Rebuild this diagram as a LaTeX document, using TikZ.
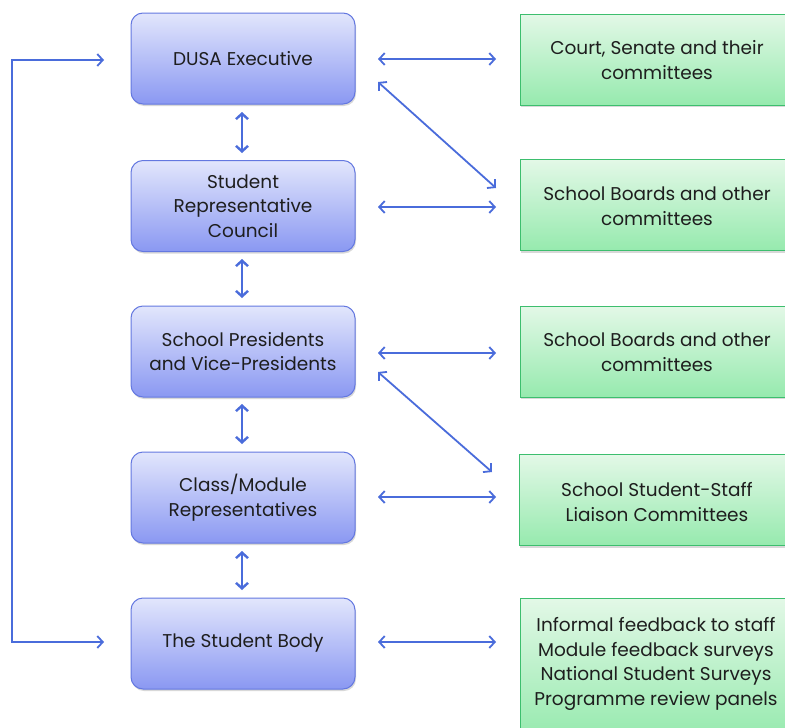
\documentclass[tikz,border=0pt]{standalone}
\usepackage{fontspec}
\setmainfont{Poppins}
\usetikzlibrary{arrows.meta,shadows}
\definecolor{linkblue}{HTML}{4A6CDB}
\definecolor{roleedge}{HTML}{6478E0}
\definecolor{roletop}{HTML}{E2E6FC}
\definecolor{rolebot}{HTML}{8A98F2}
\definecolor{bodyedge}{HTML}{3DBE6E}
\definecolor{bodytop}{HTML}{E3F8E7}
\definecolor{bodybot}{HTML}{96EAAE}
\definecolor{ink}{HTML}{1E1E1E}
\tikzset{
  x=1pt, y=-1pt,
  label text/.style={text=ink, align=center, font=\fontsize{18.5}{24.5}\selectfont},
  role/.style={draw=roleedge, line width=1pt, rounded corners=12pt,
    top color=roletop, bottom color=rolebot,
    minimum width=224pt, minimum height=91pt, label text,
    drop shadow={shadow xshift=1pt, shadow yshift=-2pt, opacity=0.3}},
  forum/.style={draw=bodyedge, line width=1pt,
    top color=bodytop, bottom color=bodybot,
    minimum width=275pt, minimum height=91pt,
    drop shadow={shadow xshift=1pt, shadow yshift=-2pt, opacity=0.3}},
  link/.style={draw=linkblue, line width=1.8pt,
    {Straight Barb[length=5.5pt,width=12pt]}-{Straight Barb[length=5.5pt,width=12pt]}},
  stacklink/.style={link, line width=2.4pt},
}
\begin{document}
\begin{tikzpicture}
\useasboundingbox (0,0) rectangle (785,728);
\fill[white] (0,0) rectangle (785,728);
% student roles (left column)
\node[role] (exec) at (243,58.5) {DUSA Executive};
\node[role] (src) at (243,206) {Student\\Representative\\Council};
\node[role] (pres) at (243,351.5) {School Presidents\\and Vice-Presidents};
\node[role] (reps) at (243,497.5) {Class/Module\\Representatives};
\node[role] (body) at (243,643.5) {The Student Body};
% university forums (right column, running off the edge)
\begin{scope}
\clip (0,0) rectangle (785,728);
\node[forum] (court) at (657.5,59.5) {};
\node[forum] (boards1) at (657.5,205) {};
\node[forum] (boards2) at (657.5,351.5) {};
\node[forum] (sslc) at (656.5,500) {};
\node[forum, minimum height=140pt] (fb) at (657.5,668) {};
\end{scope}
% forum texts
\node[label text] (t1) at (657,60) {Court, Senate and their\\committees};
\node[label text] (t2) at (657,206) {School Boards and other\\committees};
\node[label text] (t3) at (657,352) {School Boards and other\\committees};
\node[label text] (t4) at (657,502) {School Student-Staff\\Liaison Committees};
\node[label text] (t5) at (656,664) {Informal feedback to staff\\Module feedback surveys\\National Student Surveys\\Programme review panels};
% connector end points
\coordinate (e1) at (378,59); \coordinate (c1) at (496,59);
\coordinate (e2) at (378,207); \coordinate (c2) at (496,207);
\coordinate (e3) at (378,353); \coordinate (c3) at (496,353);
\coordinate (e4) at (378,497); \coordinate (c4) at (496,497);
\coordinate (e5) at (378,642); \coordinate (c5) at (496,642);
\coordinate (d1) at (378,82); \coordinate (d2) at (496,188);
\coordinate (d3) at (378,372); \coordinate (d4) at (492,472);
\coordinate (v1a) at (242,112); \coordinate (v1b) at (242,153);
\coordinate (v2a) at (242,259); \coordinate (v2b) at (242,298);
\coordinate (v3a) at (242,404); \coordinate (v3b) at (242,444);
\coordinate (v4a) at (242,551); \coordinate (v4b) at (242,590);
\coordinate (ltop) at (104,60); \coordinate (lbot) at (104,642);
% horizontal links
\draw[link] (e1) -- (c1);
\draw[link] (e2) -- (c2);
\draw[link] (e3) -- (c3);
\draw[link] (e4) -- (c4);
\draw[link] (e5) -- (c5);
% diagonal links
\draw[link] (d1) -- (d2);
\draw[link] (d3) -- (d4);
% vertical links
\draw[stacklink] (v1a) -- (v1b);
\draw[stacklink] (v2a) -- (v2b);
\draw[stacklink] (v3a) -- (v3b);
\draw[stacklink] (v4a) -- (v4b);
% feedback loop on the left
\draw[link] (ltop) -- (12,60) -- (12,642) -- (lbot);
\end{tikzpicture}
\end{document}
